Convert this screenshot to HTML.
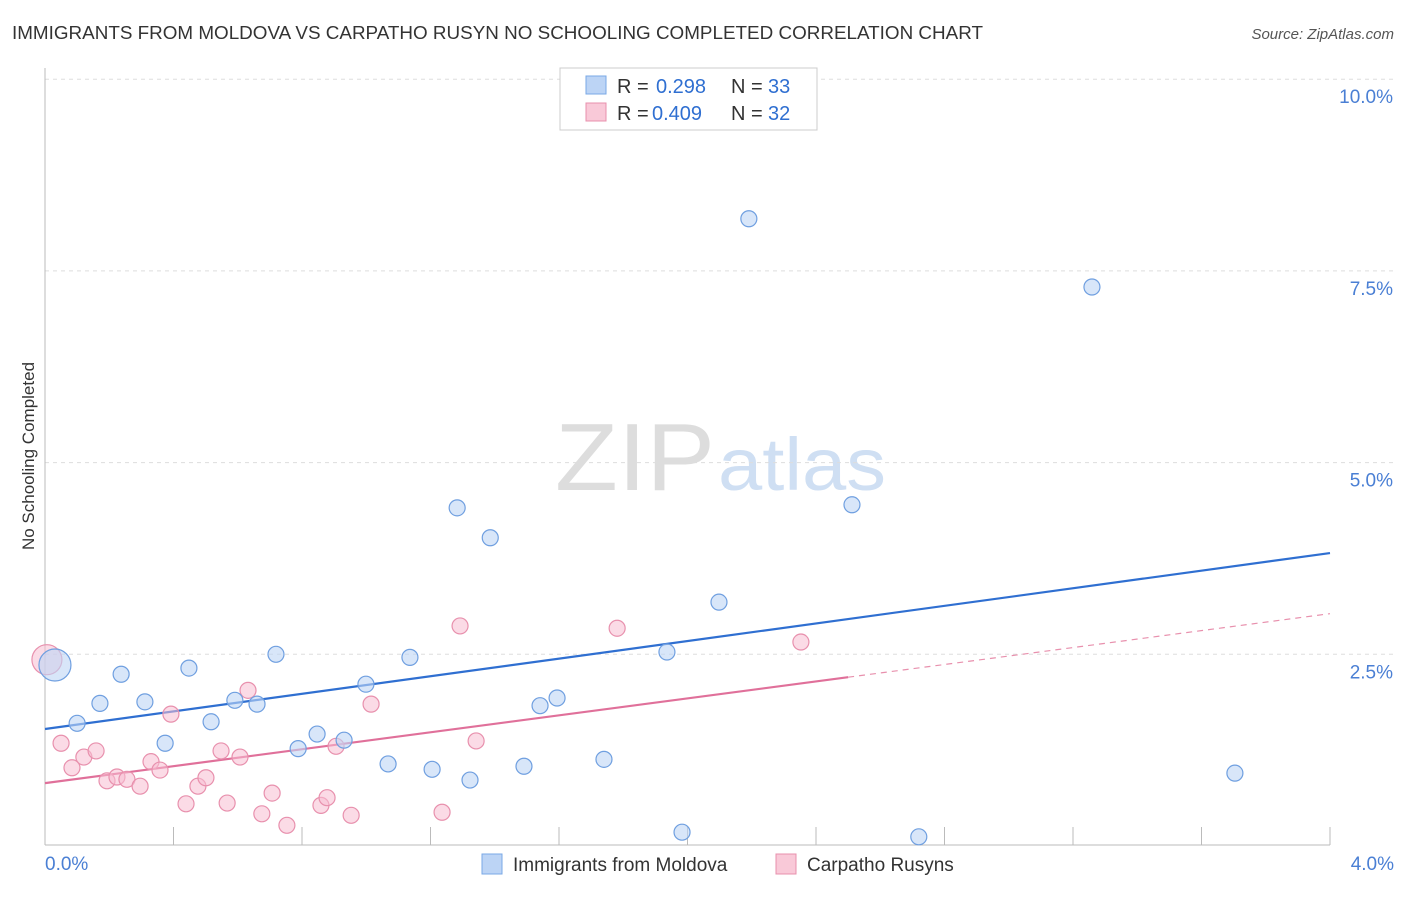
<!DOCTYPE html>
<html><head><meta charset="utf-8"><style>
body{margin:0;background:#fff;font-family:"Liberation Sans",sans-serif}
svg text{font-family:"Liberation Sans",sans-serif}
</style></head><body>
<svg id="chart" width="1406" height="892" xmlns="http://www.w3.org/2000/svg">
<text x="12" y="39" font-size="18" fill="#333" textLength="971" lengthAdjust="spacingAndGlyphs">IMMIGRANTS FROM MOLDOVA VS CARPATHO RUSYN NO SCHOOLING COMPLETED CORRELATION CHART</text>
<text x="1394" y="39" font-size="15" fill="#555" text-anchor="end" font-style="italic">Source: ZipAtlas.com</text>
<text transform="translate(34,456) rotate(-90)" font-size="17" fill="#333" text-anchor="middle">No Schooling Completed</text>
<g><text x="635" y="490" font-size="96" fill="#ddd" text-anchor="middle" font-family="Liberation Serif" textLength="160" lengthAdjust="spacingAndGlyphs">ZIP</text><text x="802" y="490" font-size="74" fill="#cfdff3" text-anchor="middle" textLength="168" lengthAdjust="spacingAndGlyphs">atlas</text></g>
<g id="grid"></g><g id="axes"></g><g id="lines"></g><g id="points"></g>
<g>
<rect x="560" y="68" width="257" height="62" fill="#fff" stroke="#ccc"/>
<rect x="586" y="76" width="20" height="18" fill="#bcd4f5" stroke="#7aa8e6"/>
<rect x="586" y="103" width="20" height="18" fill="#f9c9d8" stroke="#e890ad"/>
<text x="617" y="93" font-size="20" fill="#333">R =</text><text x="656" y="93" font-size="20" fill="#2f6fd1">0.298</text>
<text x="731" y="93" font-size="20" fill="#333">N =</text><text x="768" y="93" font-size="20" fill="#2f6fd1">33</text>
<text x="617" y="120" font-size="20" fill="#333">R =</text><text x="652" y="120" font-size="20" fill="#2f6fd1">0.409</text>
<text x="731" y="120" font-size="20" fill="#333">N =</text><text x="768" y="120" font-size="20" fill="#2f6fd1">32</text>
</g>
<g>
<rect x="482" y="854" width="20" height="20" fill="#bcd4f5" stroke="#7aa8e6"/>
<text x="513" y="871" font-size="19" fill="#333">Immigrants from Moldova</text>
<rect x="776" y="854" width="20" height="20" fill="#f9c9d8" stroke="#e890ad"/>
<text x="807" y="871" font-size="19" fill="#333">Carpatho Rusyns</text>
</g>
</svg>
<script>
const blueX=[.031,.100,.171,.237,.311,.374,.448,.517,.591,.660,.719,.788,.847,.931,.999,1.068,1.136,1.205,1.283,1.323,1.386,1.491,1.541,1.594,1.740,1.936,1.983,2.098,2.191,2.512,2.720,3.259,3.704];
const blueY=[2.36,1.60,1.86,2.24,1.88,1.34,2.32,1.62,1.90,1.85,2.50,1.27,1.46,1.38,2.11,1.07,2.46,1.00,4.41,0.86,4.02,1.04,1.83,1.93,1.13,2.53,0.18,3.18,8.18,4.45,0.12,7.29,0.95];
const pinkX=[.006,.050,.084,.121,.159,.193,.224,.255,.296,.330,.358,.392,.439,.476,.501,.548,.567,.607,.632,.675,.707,.753,.859,.878,.906,.953,1.015,1.236,1.292,1.342,1.781,2.353];
const pinkY=[2.43,1.34,1.02,1.16,1.24,0.85,0.90,0.87,0.78,1.10,0.99,1.72,0.55,0.78,0.89,1.24,0.56,1.16,2.03,0.42,0.69,0.27,0.53,0.63,1.30,0.40,1.85,0.44,2.87,1.37,2.84,2.66];
const yTicks=[2.5,5.0,7.5,10.0];
const xTickLabels=["0.0%","4.0%"];
const blueFit=[1.526,3.82];
const pinkFit=[0.82,3.03];
const pinkSolidEnd=2.5;
const NS="http://www.w3.org/2000/svg";
const sx=v=>45+v/4*1285, sy=v=>846-v/2.5*191.7;
function mk(tag,p,parent){const e=document.createElementNS(NS,tag);for(const k in p)e.setAttribute(k,p[k]);document.getElementById(parent).appendChild(e);return e;}
yTicks.forEach(t=>{
 let l=mk('line',{x1:45,x2:1394,y1:sy(t),y2:sy(t),stroke:'#ddd','stroke-dasharray':'4,4'},'grid');
 
 
 let tx=mk('text',{x:1393,y:sy(t)+24,'font-size':19,fill:'#4a7fd4','text-anchor':'end'},'grid');
 tx.textContent=t.toFixed(1)+'%';
 
 
});
let ax=mk('line',{x1:45,x2:1330,y1:845,y2:845,stroke:'#bbb'},'axes');


let ay=mk('line',{x1:45,x2:45,y1:68,y2:845,stroke:'#bbb'},'axes');


for(let i=0;i<=10;i++){let t=mk('line',{x1:sx(i*0.4),x2:sx(i*0.4),y1:827,y2:845,stroke:'#bbb'},'axes');
 
 }
[[0,xTickLabels[0],'start',45],[4,xTickLabels[1],'end',1394]].forEach(a=>{let t=mk('text',{x:a[3],y:870,'font-size':19,fill:'#4a7fd4','text-anchor':a[2]},'axes');t.textContent=a[1];
 
 });
let bl=mk('line',{x1:sx(0),y1:sy(blueFit[0]),x2:sx(4),y2:sy(blueFit[1]),stroke:'#2f6fd1','stroke-width':2.2},'lines');


const pAt=x=>pinkFit[0]+(pinkFit[1]-pinkFit[0])*x/4;
let pl=mk('line',{x1:sx(0),y1:sy(pAt(0)),x2:sx(pinkSolidEnd),y2:sy(pAt(pinkSolidEnd)),stroke:'#e0709a','stroke-width':2.2},'lines');


let pd=mk('line',{x1:sx(pinkSolidEnd),y1:sy(pAt(pinkSolidEnd)),x2:sx(4),y2:sy(pAt(4)),stroke:'#e890ad','stroke-width':1.2,'stroke-dasharray':'6,5'},'lines');


pinkX.forEach((x,i)=>{let c=mk('circle',{cx:sx(x),cy:sy(pinkY[i]),r:i==0?15:8,fill:'rgba(248,190,210,0.55)',stroke:'#e890ad','stroke-width':1.2},'points');
 
 });
blueX.forEach((x,i)=>{let c=mk('circle',{cx:sx(x),cy:sy(blueY[i]),r:i==0?16:8,fill:'rgba(190,213,245,0.6)',stroke:'#6f9fe0','stroke-width':1.2},'points');
 
 });
</script>
</body></html>
